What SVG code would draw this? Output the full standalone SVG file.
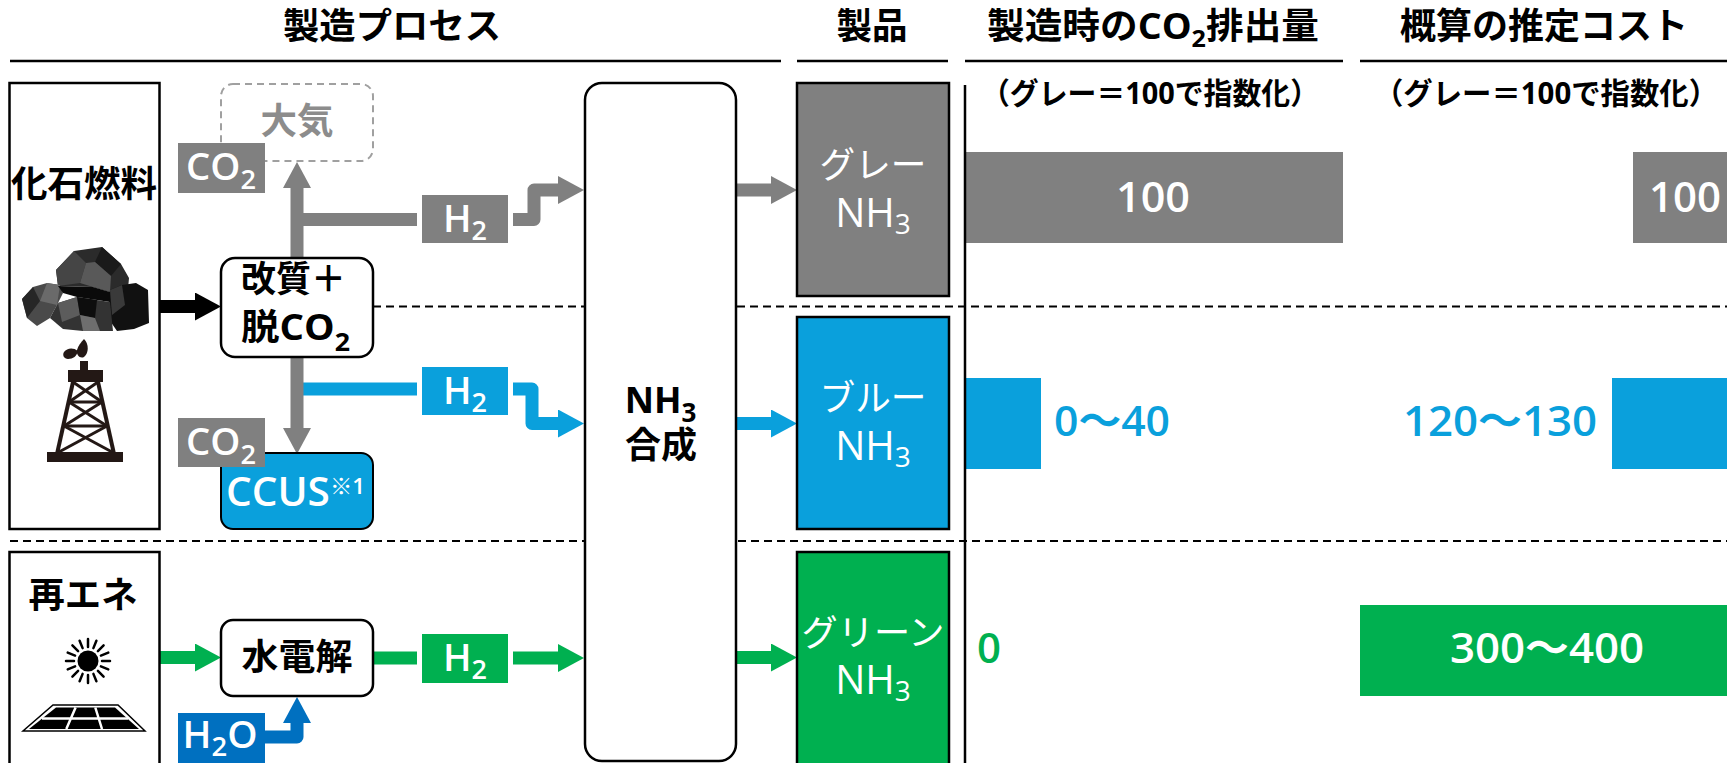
<svg xmlns="http://www.w3.org/2000/svg" width="1727" height="763" viewBox="0 0 1727 763">
<defs>
<style>
text{font-family:"Open Sans","Noto Sans CJK JP",sans-serif}
.hd{font-size:36px;font-weight:700;text-anchor:middle;fill:#000}
.sub{font-size:30px;font-weight:700;text-anchor:middle;fill:#000}
.bk{font-size:36px;font-weight:700;fill:#000}
.wt{fill:#fff;text-anchor:middle}
.lbl{font-size:38px;font-weight:600;fill:#fff;text-anchor:middle}
.num{font-size:42px;font-weight:600}
.rule{stroke:#000;stroke-width:2.5}
.dash{stroke:#000;stroke-width:2;stroke-dasharray:8 5;fill:none}
.box{fill:#fff;stroke:#000;stroke-width:2.5}
.prod{stroke:#000;stroke-width:2.5}
.pipe{fill:none;stroke-width:13;stroke-linejoin:round}
.gray{fill:#808080}.blue{fill:#0aa0dc}.green{fill:#00b050}.navy{fill:#0070c0}
</style>
<marker id="hk" viewBox="0 -14 26 28" markerWidth="26" markerHeight="28" refX="0" refY="0" orient="auto" markerUnits="userSpaceOnUse"><path d="M0,-14L26,0L0,14z" fill="#000"/></marker>
<marker id="hg" viewBox="0 -14 26 28" markerWidth="26" markerHeight="28" refX="0" refY="0" orient="auto" markerUnits="userSpaceOnUse"><path d="M0,-14L26,0L0,14z" fill="#808080"/></marker>
<marker id="hb" viewBox="0 -14 26 28" markerWidth="26" markerHeight="28" refX="0" refY="0" orient="auto" markerUnits="userSpaceOnUse"><path d="M0,-14L26,0L0,14z" fill="#0aa0dc"/></marker>
<marker id="hgr" viewBox="0 -14 26 28" markerWidth="26" markerHeight="28" refX="0" refY="0" orient="auto" markerUnits="userSpaceOnUse"><path d="M0,-14L26,0L0,14z" fill="#00b050"/></marker>
<marker id="hn" viewBox="0 -14 26 28" markerWidth="26" markerHeight="28" refX="0" refY="0" orient="auto" markerUnits="userSpaceOnUse"><path d="M0,-14L26,0L0,14z" fill="#0070c0"/></marker>
</defs>
<rect width="1727" height="763" fill="#fff"/>

<!-- column headings -->
<g id="headings">
<text class="hd" x="392" y="39" textLength="218" lengthAdjust="spacingAndGlyphs">製造プロセス</text>
<text class="hd" x="872" y="39" textLength="71" lengthAdjust="spacingAndGlyphs">製品</text>
<text class="hd" x="1153" y="39" textLength="332" lengthAdjust="spacingAndGlyphs">製造時のCO<tspan font-size="24" dy="8">2</tspan><tspan dy="-8">排出量</tspan></text>
<text class="hd" x="1544" y="39" textLength="288" lengthAdjust="spacingAndGlyphs">概算の推定コスト</text>
<line class="rule" x1="10" y1="61" x2="781" y2="61"/>
<line class="rule" x1="797" y1="61" x2="948" y2="61"/>
<line class="rule" x1="965" y1="61" x2="1343" y2="61"/>
<line class="rule" x1="1360" y1="61" x2="1727" y2="61"/>
<text class="sub" x="1150" y="104" textLength="338" lengthAdjust="spacingAndGlyphs">（グレー＝100で指数化）</text>
<text class="sub" x="1546" y="104" textLength="344" lengthAdjust="spacingAndGlyphs">（グレー＝100で指数化）</text>
</g>

<!-- row separators -->
<g id="separators">
<line class="dash" x1="373" y1="306.5" x2="1727" y2="306.5"/>
<line class="dash" x1="10" y1="541" x2="1727" y2="541"/>
</g>

<!-- connectors -->
<g id="connectors">
<path class="pipe" stroke="#000" d="M160,306.5H195" marker-end="url(#hk)"/>
<path class="pipe" stroke="#808080" d="M297,219.5H417"/>
<path class="pipe" stroke="#0aa0dc" d="M297,389H417"/>
<path class="pipe" stroke="#808080" d="M297,258V188" marker-end="url(#hg)"/>
<path class="pipe" stroke="#808080" d="M297,357V428" marker-end="url(#hg)"/>
<path class="pipe" stroke="#808080" d="M513,219.5H534V190H558" marker-end="url(#hg)"/>
<path class="pipe" stroke="#0aa0dc" d="M513,389H532V423.5H558" marker-end="url(#hb)"/>
<path class="pipe" stroke="#808080" d="M736,190H771" marker-end="url(#hg)"/>
<path class="pipe" stroke="#0aa0dc" d="M736,423.5H771" marker-end="url(#hb)"/>
<path class="pipe" stroke="#00b050" d="M160,657.5H195" marker-end="url(#hgr)"/>
<path class="pipe" stroke="#00b050" d="M373,658H417"/>
<path class="pipe" stroke="#00b050" d="M513,658H558" marker-end="url(#hgr)"/>
<path class="pipe" stroke="#00b050" d="M736,657.5H771" marker-end="url(#hgr)"/>
<path class="pipe" stroke="#0070c0" d="M265,737H297V723" marker-end="url(#hn)"/>
</g>

<!-- fossil fuel source -->
<g id="fossil">
<rect class="box" x="9.5" y="83" width="150" height="446" stroke-width="2"/>
<text class="bk" x="84" y="197" text-anchor="middle" textLength="146" lengthAdjust="spacingAndGlyphs">化石燃料</text>
<g id="coal">
<polygon fill="#2b2b2b" points="56,270 74,251 102,247 121,264 129,278 128,289 110,292 93,287 58,286"/>
<polygon fill="#454545" points="56,270 74,251 86,263 80,283 58,286"/>
<polygon fill="#1a1a1a" points="102,247 121,264 111,276 95,262"/>
<polygon fill="#595959" points="80,283 86,263 95,262 111,276 110,292 93,287"/>
<polygon fill="#4a4a4a" points="22,299 33,287 47,283 60,285 63,293 57,305 50,318 37,326 27,318"/>
<polygon fill="#262626" points="22,299 33,287 40,301 27,318"/>
<polygon fill="#6a6a6a" points="40,301 47,283 60,285 57,305"/>
<polygon fill="#111" points="110,290 122,285 136,283 148,290 149,323 134,329 117,331 108,318"/>
<polygon fill="#3a3a3a" points="110,290 122,285 125,305 112,315"/>
<polygon fill="#0a0a0a" points="58,286 93,287 110,292 110,302 97,300 77,297 63,293"/>
<polygon fill="#333" points="50,318 58,303 77,297 97,300 110,302 113,331 83,331 63,329"/>
<polygon fill="#5c5c5c" points="58,303 77,297 80,315 62,322"/>
<polygon fill="#0d0d0d" points="77,297 97,300 95,318 80,315"/>
<polygon fill="#6e6e6e" points="80,315 95,318 100,331 83,331"/>
</g>
<g id="derrick" fill="#231815" stroke="#231815">
<path stroke="none" d="M84,339C89,344 89,353 84,357C80,359 76,355 77,350C78,346 81,342 84,339z"/>
<path stroke="none" d="M64,352C67,348 73,347 78,351C77,356 73,359 68,359C64,359 62,355 64,352z"/>
<rect stroke="none" x="80" y="361" width="8" height="10"/>
<rect stroke="none" x="68" y="370" width="35" height="12"/>
<line x1="73" y1="382" x2="57" y2="454" stroke-width="4"/>
<line x1="98" y1="382" x2="114" y2="454" stroke-width="4"/>
<line x1="69" y1="402" x2="102" y2="402" stroke-width="3"/>
<line x1="64" y1="426" x2="107" y2="426" stroke-width="3"/>
<line x1="73" y1="382" x2="102" y2="402" stroke-width="3"/>
<line x1="98" y1="382" x2="69" y2="402" stroke-width="3"/>
<line x1="69" y1="402" x2="107" y2="426" stroke-width="3"/>
<line x1="102" y1="402" x2="64" y2="426" stroke-width="3"/>
<line x1="64" y1="426" x2="112" y2="452" stroke-width="3"/>
<line x1="107" y1="426" x2="59" y2="452" stroke-width="3"/>
<rect stroke="none" x="47" y="452" width="76" height="10"/>
</g>
</g>

<!-- renewable source -->
<g id="renewable">
<rect class="box" x="9.5" y="552" width="150" height="220" stroke-width="2"/>
<text class="bk" x="83" y="608" text-anchor="middle" textLength="109" lengthAdjust="spacingAndGlyphs">再エネ</text>
<g id="sun" stroke="#000" stroke-width="2.5" stroke-linecap="round">
<circle cx="88" cy="661" r="10.5" fill="#000" stroke="none"/>
<path d="M102,661L110,661M100.9,666.4L108.3,669.4M97.9,670.9L103.6,676.6M93.4,673.9L96.4,681.3M88,675L88,683M82.6,673.9L79.6,681.3M78.1,670.9L72.4,676.6M75.1,666.4L67.7,669.4M74,661L66,661M75.1,655.6L67.7,652.6M78.1,651.1L72.4,645.4M82.6,648.1L79.6,640.7M88,647L88,639M93.4,648.1L96.4,640.7M97.9,651.1L103.6,645.4M100.9,655.6L108.3,652.6"/>
</g>
<g id="panel">
<polygon points="53,705 118,705 145,731 23,731" fill="none" stroke="#000" stroke-width="1.5"/>
<polygon points="56,707.5 115,707.5 139,729 29,729" fill="#000"/>
<path d="M42,718.5H128M75.6,707.5L66.3,729M95.3,707.5L102,729" stroke="#fff" stroke-width="2.5"/>
</g>
</g>

<!-- process nodes -->
<g id="atmosphere">
<rect x="221" y="84" width="152" height="77" rx="12" fill="none" stroke="#a0a0a0" stroke-width="2" stroke-dasharray="7 5"/>
<text x="297" y="134" font-size="36" font-weight="700" fill="#8c8c8c" text-anchor="middle" textLength="73" lengthAdjust="spacingAndGlyphs">大気</text>
</g>
<g id="reforming">
<rect class="box" x="221" y="258" width="152" height="99" rx="14"/>
<text class="bk" x="241" y="292" textLength="105" lengthAdjust="spacingAndGlyphs">改質＋</text>
<text class="bk" x="241" y="340" textLength="109" lengthAdjust="spacingAndGlyphs">脱CO<tspan font-size="25" dy="11">2</tspan></text>
</g>
<g id="ccus">
<rect x="221" y="453" width="152" height="76" rx="12" class="blue" stroke="#000" stroke-width="2"/>
<text x="226" y="506" font-size="40" font-weight="600" fill="#fff" textLength="139" lengthAdjust="spacingAndGlyphs">CCUS<tspan font-size="22" dy="-12">※1</tspan></text>
</g>
<g id="electrolysis">
<rect class="box" x="221" y="620" width="152" height="76" rx="12"/>
<text class="bk" x="297" y="670" text-anchor="middle" textLength="111" lengthAdjust="spacingAndGlyphs">水電解</text>
</g>
<g id="synthesis">
<rect class="box" x="585" y="83" width="151" height="678" rx="17"/>
<text x="660.5" y="413" font-size="36" font-weight="700" text-anchor="middle">NH<tspan font-size="26" dy="9">3</tspan></text>
<text class="bk" x="661" y="458" text-anchor="middle" textLength="72" lengthAdjust="spacingAndGlyphs">合成</text>
</g>

<!-- stream labels -->
<g id="co2-vent"><rect class="gray" x="178" y="143" width="87" height="50"/><text class="lbl" x="221" y="180" textLength="70" lengthAdjust="spacingAndGlyphs">CO<tspan font-size="27" dy="9">2</tspan></text></g>
<g id="co2-capture"><rect class="gray" x="178" y="418" width="87" height="49"/><text class="lbl" x="221" y="455" textLength="70" lengthAdjust="spacingAndGlyphs">CO<tspan font-size="27" dy="9">2</tspan></text></g>
<g id="h2-gray"><rect class="gray" x="422" y="195" width="86" height="48"/><text class="lbl" x="465" y="232" textLength="44" lengthAdjust="spacingAndGlyphs">H<tspan font-size="27" dy="8">2</tspan></text></g>
<g id="h2-blue"><rect class="blue" x="422" y="367" width="86" height="48"/><text class="lbl" x="465" y="404" textLength="44" lengthAdjust="spacingAndGlyphs">H<tspan font-size="27" dy="8">2</tspan></text></g>
<g id="h2-green"><rect class="green" x="422" y="634" width="86" height="49"/><text class="lbl" x="465" y="671" textLength="44" lengthAdjust="spacingAndGlyphs">H<tspan font-size="27" dy="8">2</tspan></text></g>
<g id="h2o"><rect class="navy" x="178" y="713" width="87" height="52"/><text class="lbl" x="220" y="748" textLength="75" lengthAdjust="spacingAndGlyphs">H<tspan font-size="27" dy="8">2</tspan><tspan dy="-8">O</tspan></text></g>

<!-- products -->
<g id="prod-gray">
<rect class="gray prod" x="797" y="83" width="152" height="213"/>
<text class="wt" x="873" y="178" font-size="36" textLength="107" lengthAdjust="spacingAndGlyphs">グレー</text>
<text class="wt" x="873" y="227" font-size="40">NH<tspan font-size="28" dy="7">3</tspan></text>
</g>
<g id="prod-blue">
<rect class="blue prod" x="797" y="317" width="152" height="212"/>
<text class="wt" x="873" y="411" font-size="36" textLength="107" lengthAdjust="spacingAndGlyphs">ブルー</text>
<text class="wt" x="873" y="460" font-size="40">NH<tspan font-size="28" dy="7">3</tspan></text>
</g>
<g id="prod-green">
<rect class="green prod" x="797" y="552" width="152" height="220"/>
<text class="wt" x="873" y="646" font-size="36" textLength="143" lengthAdjust="spacingAndGlyphs">グリーン</text>
<text class="wt" x="873" y="694" font-size="40">NH<tspan font-size="28" dy="7">3</tspan></text>
</g>

<!-- emissions column -->
<g id="emissions">
<rect class="gray" x="965" y="152" width="378" height="91"/>
<text class="num wt" x="1153" y="212" textLength="74" lengthAdjust="spacingAndGlyphs">100</text>
<rect class="blue" x="965" y="378" width="76" height="91"/>
<text class="num" x="1054" y="436" fill="#0aa0dc" textLength="116" lengthAdjust="spacingAndGlyphs">0〜40</text>
<text class="num" x="977" y="663" fill="#00b050">0</text>
</g>

<!-- cost column -->
<g id="cost">
<rect class="gray" x="1633" y="152" width="94" height="91"/>
<text class="num wt" x="1685" y="212" textLength="72" lengthAdjust="spacingAndGlyphs">100</text>
<rect class="blue" x="1612" y="378" width="115" height="91"/>
<text class="num" x="1597" y="436" fill="#0aa0dc" text-anchor="end" textLength="194" lengthAdjust="spacingAndGlyphs">120〜130</text>
<rect class="green" x="1360" y="605" width="367" height="91"/>
<text class="num wt" x="1547" y="663" textLength="194" lengthAdjust="spacingAndGlyphs">300〜400</text>
</g>

<line id="axis" x1="965" y1="85" x2="965" y2="763" stroke="#000" stroke-width="2.5"/>
</svg>
